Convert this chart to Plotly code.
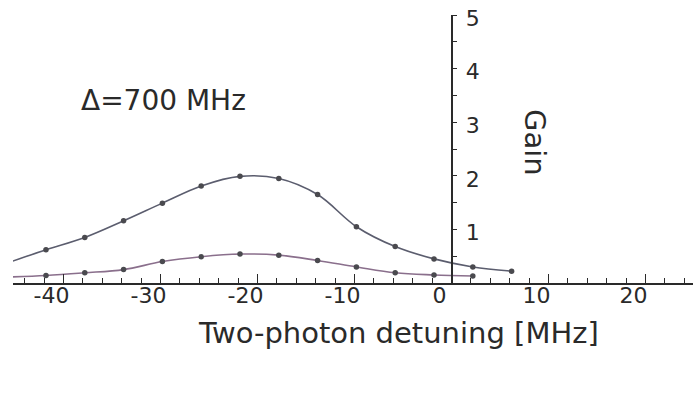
import plotly.graph_objects as go

# Measured gain versus two-photon detuning (MHz)
detuning = [-41.8, -37.8, -33.8, -29.8, -25.8, -21.8, -17.8, -13.8, -9.8, -5.8, -1.8, 2.2, 6.2]
gain_upper = [0.62, 0.85, 1.16, 1.49, 1.81, 1.99, 1.95, 1.65, 1.05, 0.68, 0.45, 0.30, 0.22]
detuning_lower = [-41.8, -37.8, -33.8, -29.8, -25.8, -21.8, -17.8, -13.8, -9.8, -5.8, -1.8, 2.2]
gain_lower = [0.14, 0.19, 0.25, 0.40, 0.49, 0.54, 0.52, 0.42, 0.30, 0.19, 0.15, 0.13]

# The fitted curves continue past the left end of the axis
edge_detuning = -46.0
edge_gain_upper = 0.36
edge_gain_lower = 0.11

x_tick_vals = [-40, -30, -20, -10, 0, 10, 20]
x_tick_text = ["-40", "-30", "-20", "-10", "0", "10", "20"]
y_tick_vals = [1, 2, 3, 4, 5]
y_tick_text = ["1", "2", "3", "4", "5"]

FONT = "DejaVu Sans"
INK = "#2a2a2a"

fig = go.Figure()

fig.add_trace(go.Scatter(
    x=[edge_detuning] + detuning, y=[edge_gain_upper] + gain_upper,
    mode="lines", line=dict(color="#5b5d6e", width=1.6, shape="spline", smoothing=1.0),
    hoverinfo="skip", showlegend=False))
fig.add_trace(go.Scatter(
    x=[edge_detuning] + detuning_lower, y=[edge_gain_lower] + gain_lower,
    mode="lines", line=dict(color="#8a6f8c", width=1.6, shape="spline", smoothing=1.0),
    hoverinfo="skip", showlegend=False))
fig.add_trace(go.Scatter(
    x=detuning, y=gain_upper, mode="markers",
    marker=dict(color="#4a4a4f", size=5.5), showlegend=False))
fig.add_trace(go.Scatter(
    x=detuning_lower, y=gain_lower, mode="markers",
    marker=dict(color="#4a4a4f", size=5.5), showlegend=False))

fig.update_layout(
    width=693, height=394,
    margin=dict(l=0, r=0, t=0, b=0),
    paper_bgcolor="white", plot_bgcolor="white",
    font=dict(family=FONT, color=INK),
    xaxis=dict(
        domain=[13 / 693, 1], range=[-45.2, 24.9], anchor="y", automargin=False,
        showgrid=False, zeroline=False,
        showline=True, linecolor=INK, linewidth=1.5,
        tickmode="array", tickvals=x_tick_vals, ticktext=x_tick_text,
        ticks="inside", ticklen=9, tickwidth=1.3, tickcolor=INK,
        minor=dict(dtick=2, tick0=0, ticks="inside", ticklen=5, tickwidth=1.2, tickcolor=INK),
        tickfont=dict(family=FONT, size=22, color=INK),
        ticklabelstandoff=-8, ticklabelshift=-12,
    ),
    yaxis=dict(
        domain=[(394 - 283) / 394, (394 - 15) / 394], range=[0, 5],
        anchor="free", position=451.5 / 693, side="right", automargin=False,
        showgrid=False, zeroline=False,
        showline=True, linecolor=INK, linewidth=1.5,
        tickmode="array", tickvals=y_tick_vals, ticktext=y_tick_text,
        ticks="outside", ticklen=5, tickwidth=1.3, tickcolor=INK,
        minor=dict(dtick=0.5, tick0=0, ticks="outside", ticklen=5, tickwidth=1.2, tickcolor=INK),
        tickfont=dict(family=FONT, size=22, color=INK),
        ticklabelstandoff=4, ticklabelshift=3,
    ),
    annotations=[
        dict(text="Δ=700 MHz", x=163 / 693, y=(394 - 100) / 394, xref="paper", yref="paper",
             showarrow=False, font=dict(family=FONT, size=28, color=INK),
             xanchor="center", yanchor="middle"),
        dict(text="Gain", x=535 / 693, y=(394 - 142) / 394, xref="paper", yref="paper",
             showarrow=False, textangle=90, font=dict(family=FONT, size=29, color=INK),
             xanchor="center", yanchor="middle"),
        dict(text="Two-photon detuning [MHz]", x=398 / 693, y=(394 - 333) / 394,
             xref="paper", yref="paper", showarrow=False,
             font=dict(family=FONT, size=29, color=INK),
             xanchor="center", yanchor="middle"),
    ],
)

fig.write_html("out.html")
